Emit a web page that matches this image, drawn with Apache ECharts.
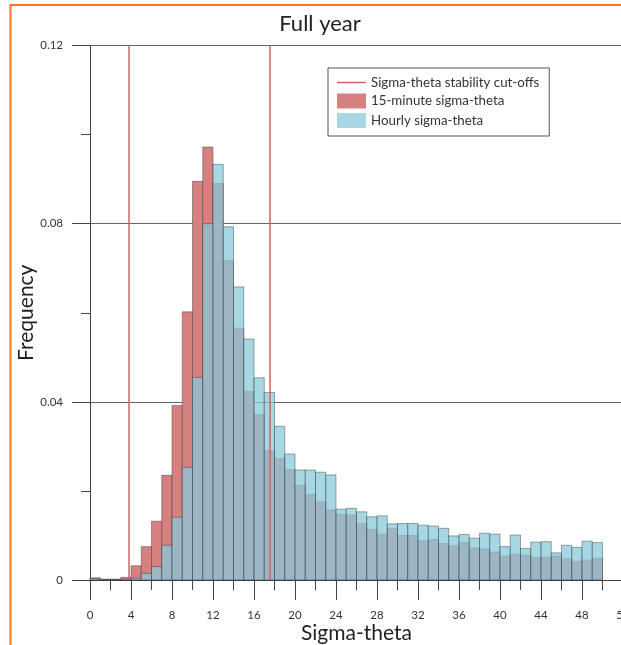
<!DOCTYPE html>
<html>
<head>
<meta charset="utf-8">
<script src="https://cdn.jsdelivr.net/npm/echarts@6/dist/echarts.min.js"></script>
<style>
html,body{margin:0;padding:0;background:#fff;}
#chart{width:621px;height:645px;}
</style>
</head>
<body>
<div id="chart"></div>
<script>
// Data
const binStarts = [0,1,2,3,4,5,6,7,8,9,10,11,12,13,14,15,16,17,18,19,20,21,22,23,24,25,26,27,28,29,30,31,32,33,34,35,36,37,38,39,40,41,42,43,44,45,46,47,48,49];
const binWidth = 1;
const freq15min = [0.0005,0.0002,0.0002,0.0006,0.0032,0.0075,0.0132,0.0235,0.0392,0.0602,
                   0.0895,0.0972,0.0890,0.0717,0.0565,0.0423,0.0371,0.0290,0.0273,0.0248,
                   0.0213,0.0192,0.0176,0.0157,0.0148,0.0146,0.0127,0.0114,0.0103,0.0116,
                   0.0100,0.0100,0.0088,0.0091,0.0082,0.0077,0.0084,0.0072,0.0070,0.0063,
                   0.0054,0.0058,0.0056,0.0051,0.0051,0.0054,0.0048,0.0042,0.0045,0.0049];
const freqHourly = [0.0003,0.0001,0.0001,0.0002,0.0004,0.0015,0.0030,0.0078,0.0141,0.0253,
                    0.0455,0.0800,0.0933,0.0793,0.0658,0.0541,0.0454,0.0421,0.0345,0.0283,
                    0.0247,0.0247,0.0242,0.0236,0.0159,0.0161,0.0153,0.0142,0.0144,0.0126,
                    0.0127,0.0127,0.0123,0.0121,0.0116,0.0099,0.0102,0.0094,0.0105,0.0103,
                    0.0075,0.0101,0.0071,0.0085,0.0086,0.0061,0.0078,0.0073,0.0087,0.0084];
const cutoffs = [3.75, 17.5];
const xTicks = {min: 0, max: 52, interval: 4};
const yTicks = {min: 0, max: 0.12, interval: 0.04};

const FONT = 'Lato, "Open Sans", sans-serif';
const RED = 'rgb(215,128,128)';
const BLUE = 'rgba(138,201,218,0.74)';
const CUT = 'rgb(205,100,100)';

function histSeries(name, values, color) {
  return {
    name: name,
    type: 'custom',
    itemStyle: {color: color},
    data: binStarts.map((b, i) => [b, values[i]]),
    encode: {x: 0, y: 1},
    renderItem: function (params, api) {
      const x0 = api.value(0), y = api.value(1);
      const p0 = api.coord([x0, 0]);
      const p1 = api.coord([x0 + binWidth, y]);
      return {
        type: 'rect',
        shape: {x: p0[0], y: p1[1], width: p1[0] - p0[0], height: p0[1] - p1[1]},
        style: {fill: color, stroke: 'rgba(45,55,65,0.55)', lineWidth: 0.8}
      };
    }
  };
}

const chart = echarts.init(document.getElementById('chart'), null, {renderer: 'canvas'});
chart.setOption({
  animation: false,
  backgroundColor: '#fff',
  title: {
    text: 'Full year',
    left: 320, top: 13, textAlign: 'center', padding: 0,
    textStyle: {fontFamily: FONT, fontSize: 22, fontWeight: 'normal', color: '#222'}
  },
  grid: {left: 90, top: 45.5, right: -2, bottom: 65, containLabel: false, outerBoundsMode: 'none'},
  legend: {
    orient: 'vertical',
    left: 328, top: 68,
    padding: [8, 10, 8, 9],
    itemWidth: 29, itemHeight: 15, itemGap: 4.5,
    borderColor: '#555', borderWidth: 1,
    symbolKeepAspect: true,
    textStyle: {fontFamily: FONT, fontSize: 13.3, color: '#333'},
    data: [
      {name: 'Sigma-theta stability cut-offs', icon: 'path://M0,0L29,0L29,1.5L0,1.5Z'},
      {name: '15-minute sigma-theta', icon: 'rect'},
      {name: 'Hourly sigma-theta', icon: 'rect'}
    ]
  },
  xAxis: {
    type: 'value',
    min: xTicks.min, max: xTicks.max, interval: xTicks.interval,
    name: 'Sigma-theta', nameLocation: 'middle', nameGap: 43, nameMoveOverlap: false,
    nameTextStyle: {fontFamily: FONT, fontSize: 21, color: '#222'},
    axisLine: {show: true, lineStyle: {color: '#444', width: 1}},
    axisTick: {show: true, length: 20, lineStyle: {color: '#444'}},
    minorTick: {show: true, splitNumber: 2, length: 10, lineStyle: {color: '#444'}},
    axisLabel: {margin: 29, fontFamily: FONT, fontSize: 11.5, color: '#333',
      showMaxLabel: true},
    splitLine: {show: false}
  },
  yAxis: {
    type: 'value',
    min: yTicks.min, max: yTicks.max, interval: yTicks.interval,
    name: 'Frequency', nameLocation: 'middle', nameGap: 53, nameMoveOverlap: false,
    nameTextStyle: {fontFamily: FONT, fontSize: 21, color: '#222'},
    axisLine: {show: true, lineStyle: {color: '#444', width: 1}},
    axisTick: {show: true, length: 18, lineStyle: {color: '#444'}},
    minorTick: {show: true, splitNumber: 2, length: 9, lineStyle: {color: '#444'}},
    axisLabel: {margin: 27, fontFamily: FONT, fontSize: 11.5, color: '#333',
      formatter: v => (v === 0 ? '0' : String(+v.toFixed(2)))},
    splitLine: {show: true, lineStyle: {color: '#666', width: 1}}
  },
  series: [
    histSeries('15-minute sigma-theta', freq15min, RED),
    histSeries('Hourly sigma-theta', freqHourly, BLUE),
    {
      name: 'Sigma-theta stability cut-offs',
      type: 'line',
      data: [],
      symbol: 'none',
      lineStyle: {color: CUT, width: 1.5},
      itemStyle: {color: CUT},
      markLine: {
        silent: true, symbol: 'none', label: {show: false},
        lineStyle: {color: CUT, width: 1.5, type: 'solid'},
        data: cutoffs.map(c => ({xAxis: c}))
      }
    }
  ],
  graphic: [
    {type: 'line', shape: {x1: 10.5, y1: 5, x2: 621, y2: 5}, style: {stroke: '#ff7420', lineWidth: 2}, z: 100},
    {type: 'line', shape: {x1: 10.5, y1: 4, x2: 10.5, y2: 645}, style: {stroke: '#ff7420', lineWidth: 2}, z: 100}
  ]
});
</script>
</body>
</html>
